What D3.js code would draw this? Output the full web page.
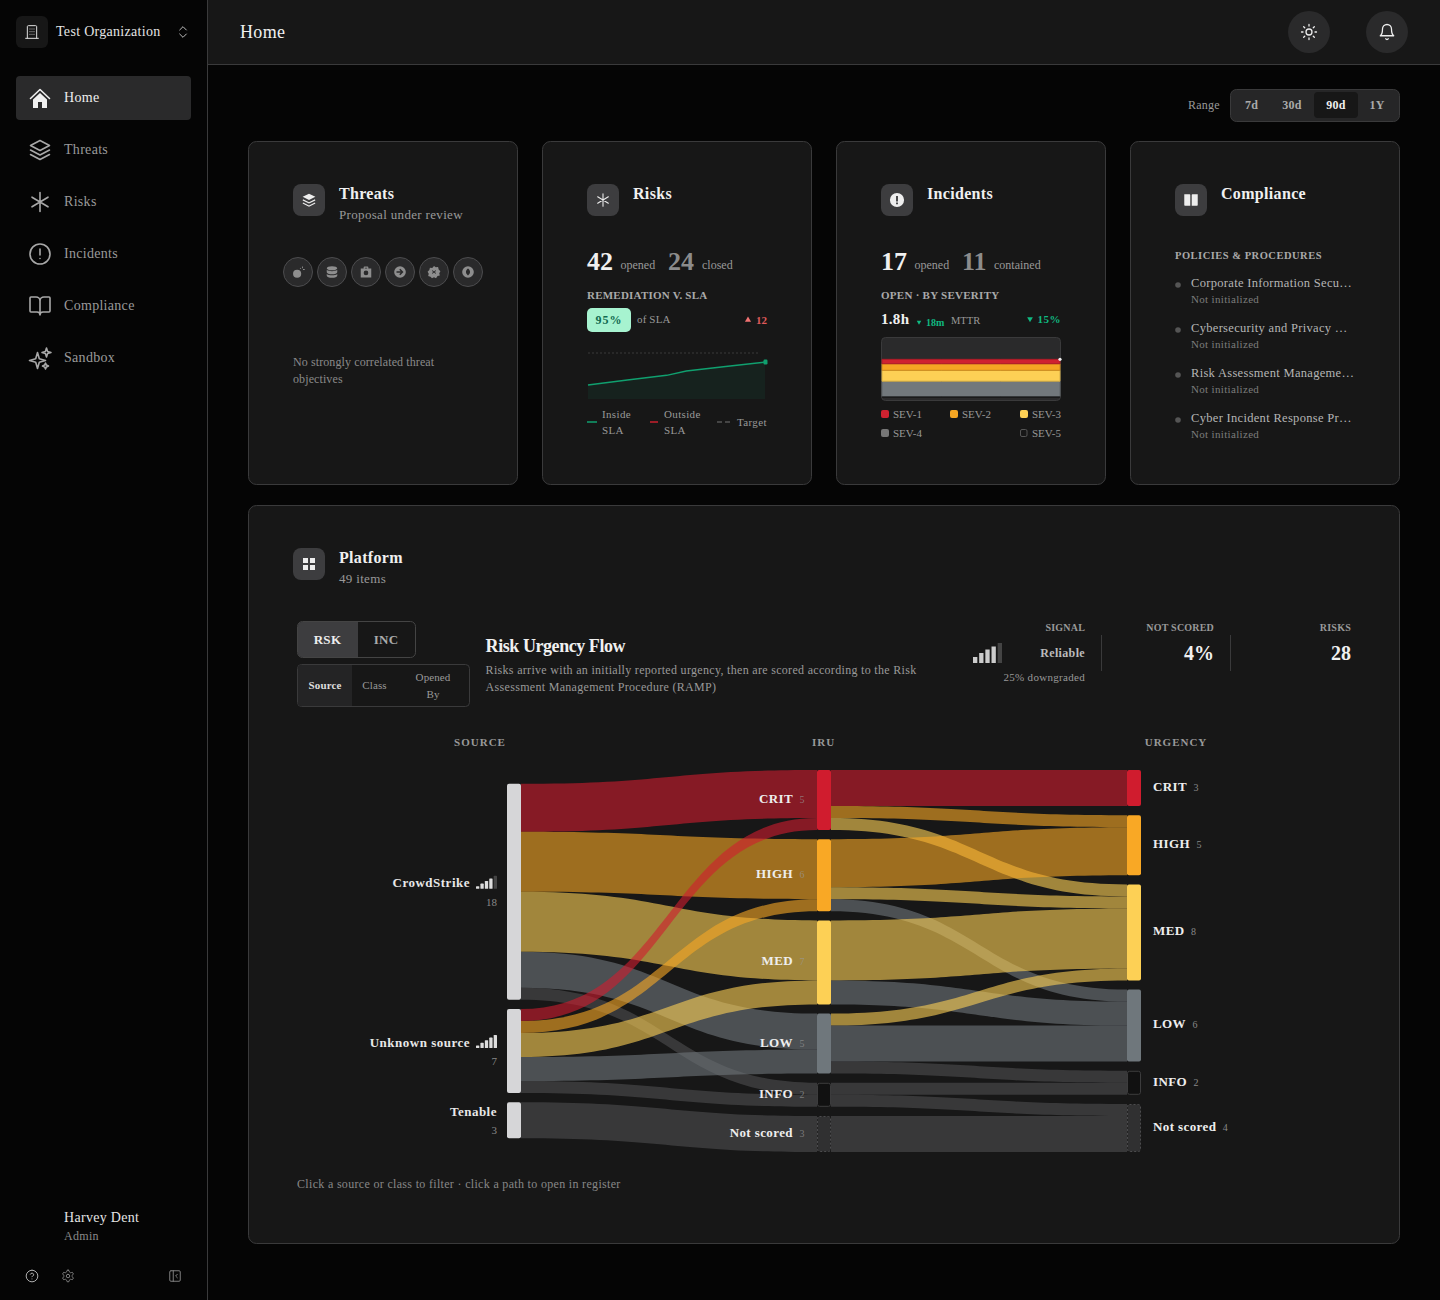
<!DOCTYPE html>
<html>
<head>
<meta charset="utf-8">
<title>Home</title>
<script src="https://cdn.jsdelivr.net/npm/d3@7/dist/d3.min.js"></script>
<style>
  html, body { margin: 0; padding: 0; background: #050505; }
  svg { display: block; font-family: "Liberation Serif", serif; }
</style>
</head>
<body>
<script>
// sankey data
const sourceNames = ["CrowdStrike", "Unknown source", "Tenable"];
const sourceSignal = [4, 5, 0];
const iruNames = ["CRIT", "HIGH", "MED", "LOW", "INFO", "Not scored"];
const urgencyNames = ["CRIT", "HIGH", "MED", "LOW", "INFO", "Not scored"];
const columnNames = ["SOURCE", "IRU", "URGENCY"];
const sourceToIru = [
  ["CrowdStrike", "CRIT", 4], ["CrowdStrike", "HIGH", 5], ["CrowdStrike", "MED", 5],
  ["CrowdStrike", "LOW", 3], ["CrowdStrike", "INFO", 1],
  ["Unknown source", "CRIT", 1], ["Unknown source", "HIGH", 1], ["Unknown source", "MED", 2],
  ["Unknown source", "LOW", 2], ["Unknown source", "INFO", 1],
  ["Tenable", "Not scored", 3],
];
const iruToUrgency = [
  ["CRIT", "CRIT", 3], ["CRIT", "HIGH", 1], ["CRIT", "MED", 1],
  ["HIGH", "HIGH", 4], ["HIGH", "MED", 1], ["HIGH", "LOW", 1],
  ["MED", "MED", 5], ["MED", "LOW", 2],
  ["LOW", "MED", 1], ["LOW", "LOW", 3], ["LOW", "INFO", 1],
  ["INFO", "INFO", 1], ["INFO", "Not scored", 1],
  ["Not scored", "Not scored", 3],
];
const bandNames = ["CRIT", "HIGH", "MED", "LOW", "INFO", "Not scored"];
const bandColors = ["#d01c2e", "#f9a825", "#fdd055", "#6f777c", "#4e4e50", "#4e4e50"];

// sla sparkline
const slaDays = [0, 20, 40, 50, 70, 90];
const slaInside = [82.2, 85, 87.6, 90, 92.5, 95];
const slaTarget = 100;

// severity stack
const severityNames = ["SEV-1", "SEV-2", "SEV-3", "SEV-4", "SEV-5"];
const severityColors = ["#cf2230", "#f5a623", "#fdd055", "#72787c", "#2a2a2b"];
const severityWeeks = [0, 30, 60, 90];
const severityOpen = [
  { week: 0, "SEV-1": 2, "SEV-2": 3, "SEV-3": 5, "SEV-4": 7, "SEV-5": 0 },
  { week: 30, "SEV-1": 2, "SEV-2": 3, "SEV-3": 5, "SEV-4": 7, "SEV-5": 0 },
  { week: 60, "SEV-1": 2, "SEV-2": 3, "SEV-3": 5, "SEV-4": 7, "SEV-5": 0 },
  { week: 90, "SEV-1": 2, "SEV-2": 3, "SEV-3": 5, "SEV-4": 7, "SEV-5": 0 },
];

// page text
const navItems = ["Home", "Threats", "Risks", "Incidents", "Compliance", "Sandbox"];
const rangeItems = ["7d", "30d", "90d", "1Y"];
const policyNames = [
  "Corporate Information Secu…",
  "Cybersecurity and Privacy …",
  "Risk Assessment Manageme…",
  "Cyber Incident Response Pr…",
];
const signalBars = [6, 10, 13.5, 16.5, 20];

const cardFill = "#171717";

// icons, 24 unit box
const icons = {
  building: "M5 21V4a1.5 1.5 0 0 1 1.500-1.500h11A1.500 1.500 0 0 1 19 4v17M2.500 21.500h19M9 7.500h.01M12 7.500h.01M15 7.500h.01M9 11.500h.01M12 11.500h.01M15 11.500h.01M9 15.500h.01M12 15.500h.01M15 15.500h.01",
  chevrons: "m7 15 5 5 5-5M7 9l5-5 5 5",
  layers: "M12 2.5 2.5 7.5 12 12.5l9.5-5ZM2.5 12l9.5 5 9.5-5M2.5 16.5l9.5 5 9.5-5",
  asterisk: "M12 2.5v19M4 7.2l16 9.6M20 7.2 4 16.8",
  alert: "M12 2a10 10 0 1 0 0 20 10 10 0 1 0 0-20M12 7v6M12 16.5h.01",
  book: "M12 7v14M3 18a1 1 0 0 1-1-1V4a1 1 0 0 1 1-1h5a4 4 0 0 1 4 4 4 4 0 0 1 4-4h5a1 1 0 0 1 1 1v13a1 1 0 0 1-1 1h-6a3 3 0 0 0-3 3 3 3 0 0 0-3-3z",
  sparkles: "M9.5 6.5 11.3 12.7 17.5 14.5 11.3 16.3 9.5 22.5 7.7 16.3 1.5 14.5 7.7 12.7ZM18.5 2 19.6 5.4 23 6.5 19.6 7.6 18.5 11 17.4 7.6 14 6.5 17.4 5.4ZM17.5 17 18.4 19.1 20.5 20 18.4 20.9 17.5 23 16.6 20.9 14.5 20 16.6 19.1Z",
  sun: "M12 8a4 4 0 1 0 0 8 4 4 0 1 0 0-8M12 2v2M12 20v2M4.9 4.9l1.4 1.4M17.7 17.7l1.4 1.4M2 12h2M20 12h2M6.3 17.7l-1.4 1.4M19.1 4.9l-1.4 1.4",
  bell: "M6 8a6 6 0 0 1 12 0c0 7 3 9 3 9H3s3-2 3-9M10.3 21a1.94 1.94 0 0 0 3.4 0",
  help: "M12 2a10 10 0 1 0 0 20 10 10 0 1 0 0-20M9.1 9a3 3 0 0 1 5.8 1c0 2-3 3-3 3M12 17h.01",
  gear: "M12.22 2h-.44a2 2 0 0 0-2 2v.18a2 2 0 0 1-1 1.73l-.43.25a2 2 0 0 1-2 0l-.15-.08a2 2 0 0 0-2.73.73l-.22.38a2 2 0 0 0 .73 2.73l.15.1a2 2 0 0 1 1 1.72v.51a2 2 0 0 1-1 1.74l-.15.09a2 2 0 0 0-.73 2.73l.22.38a2 2 0 0 0 2.73.73l.15-.08a2 2 0 0 1 2 0l.43.25a2 2 0 0 1 1 1.73V20a2 2 0 0 0 2 2h.44a2 2 0 0 0 2-2v-.18a2 2 0 0 1 1-1.73l.43-.25a2 2 0 0 1 2 0l.15.08a2 2 0 0 0 2.73-.73l.22-.39a2 2 0 0 0-.73-2.73l-.15-.08a2 2 0 0 1-1-1.74v-.5a2 2 0 0 1 1-1.74l.15-.09a2 2 0 0 0 .73-2.73l-.22-.38a2 2 0 0 0-2.73-.73l-.15.08a2 2 0 0 1-2 0l-.43-.25a2 2 0 0 1-1-1.73V4a2 2 0 0 0-2-2zM12 9a3 3 0 1 0 0 6 3 3 0 1 0 0-6",
  panel: "M5 3h14a2 2 0 0 1 2 2v14a2 2 0 0 1-2 2H5a2 2 0 0 1-2-2V5a2 2 0 0 1 2-2M9 3v18M16 9l-3 3 3 3",
  homeRoof: "M2.5 12.5 12 3.5l9.5 9",
  homeBody: "M5 13.5 12 7l7 6.5V22h-5v-6h-4v6H5Z",
  stackFill: "M12 3 3 7.5l9 4.5 9-4.5ZM3.6 11 12 15.2 20.4 11l.6 1.6-9 4.5-9-4.5ZM3.6 15.5 12 19.7l8.4-4.2.6 1.6-9 4.5-9-4.5Z",
  alertFill: "M12 2a10 10 0 1 0 0 20 10 10 0 1 0 0-20ZM10.7 6.5h2.6v7.5h-2.6ZM10.7 15.5h2.6v2.5h-2.6Z",
  bookFill: "M2.5 4H10a1 1 0 0 1 1 1v15H3.5a1 1 0 0 1-1-1ZM21.5 4H14a1 1 0 0 0-1 1v15h7.5a1 1 0 0 0 1-1Z",
  gridFill: "M3 3h7.5v7.5H3ZM13.5 3H21v7.5h-7.5ZM3 13.5h7.5V21H3ZM13.5 13.5H21V21h-7.5Z",
  bomb: "M10.5 8a7 7 0 1 0 0 14 7 7 0 1 0 0-14ZM15 6l1.5-1.5 1 1L16 7ZM19 2.5h1.6v3H19ZM20.5 7h3v1.6h-3Z",
  db: "M12 2c5 0 9 1.3 9 3.5S17 9 12 9 3 7.7 3 5.5 7 2 12 2ZM3 8.3C5 10 8.500 10.700 12 10.700S19 10 21 8.300v4.200C21 14.700 17 16 12 16S3 14.700 3 12.500ZM3 15.300C5 17 8.500 17.700 12 17.700S19 17 21 15.300v3.200C21 20.700 17 22 12 22S3 20.700 3 18.500Z",
  bag: "M8 6V4a1.500 1.500 0 0 1 1.500-1.500h5A1.500 1.500 0 0 1 16 4v2h5v15.500H3V6ZM10 6h4V4.500h-4ZM12 9.500a4 4 0 1 0 0 8 4 4 0 1 0 0-8Z",
  arrow: "M12 2a10 10 0 1 0 0 20 10 10 0 1 0 0-20ZM12.500 6.500 18 12l-5.500 5.500-1.800-1.800 2.500-2.500H6v-2.400h7.200l-2.500-2.500Z",
  hex: "M12 1.500l3 2.500 4-.5 1 4 3 3-2 3.500 1 4-4 1-2.500 3.500-3.500-1.500-3.500 1.500L6 20 2 19l1-4-2-3.500 3-3 1-4 4 .5ZM9.500 9 8.500 10 10.500 12l-2 2 1 1 2.500-2 2.500 2 1-1-2-2 2-2-1-1-2.500 2Z",
  coin: "M12 2a10 10 0 1 0 0 20 10 10 0 1 0 0-20ZM12 6c2.500 2 3.500 4 3.500 6s-1 4-3.500 6c-2.500-2-3.500-4-3.500-6s1-4 3.500-6Z",
};
const threatGlyphs = ["bomb", "db", "bag", "arrow", "hex", "coin"];

const svg = d3.select("body").append("svg").attr("width", 1440).attr("height", 1300);

function label(parent, x, y, str, o = {}) {
  return parent
    .append("text")
    .attr("x", x)
    .attr("y", y)
    .attr("fill", o.fill || "#999")
    .attr("font-size", o.size || 12)
    .attr("font-weight", o.bold ? 700 : 400)
    .attr("text-anchor", o.anchor || "start")
    .attr("letter-spacing", o.ls || 0)
    .text(str);
}

function icon(parent, name, x, y, size, o = {}) {
  // x,y is the top left corner of the icon box
  return parent
    .append("path")
    .attr("d", icons[name])
    .attr("transform", `translate(${x},${y}) scale(${size / 24})`)
    .attr("fill", o.fill || "none")
    .attr("fill-rule", "evenodd")
    .attr("stroke", o.stroke || "none")
    .attr("stroke-width", o.sw || 0)
    .attr("stroke-linecap", "round")
    .attr("stroke-linejoin", "round");
}

function box(parent, x, y, w, h, r, fill, stroke) {
  return parent
    .append("rect")
    .attr("x", x + (stroke ? 0.5 : 0))
    .attr("y", y + (stroke ? 0.5 : 0))
    .attr("width", w - (stroke ? 1 : 0))
    .attr("height", h - (stroke ? 1 : 0))
    .attr("rx", r)
    .attr("fill", fill)
    .attr("stroke", stroke || "none");
}

function hline(parent, x1, y1, x2, y2, stroke, sw) {
  return parent
    .append("line")
    .attr("x1", x1)
    .attr("y1", y1)
    .attr("x2", x2)
    .attr("y2", y2)
    .attr("stroke", stroke)
    .attr("stroke-width", sw || 1);
}

function drawSidebar() {
  const g = svg.append("g").attr("id", "sidebar");
  box(g, 0, 0, 207, 1300, 0, "#050505");
  hline(g, 207.5, 0, 207.5, 1300, "#3a3a3b");

  box(g, 16, 16, 32, 32, 6, cardFill);
  icon(g, "building", 24, 24, 16, { stroke: "#e0e0e0", sw: 1.5 });
  label(g, 56, 36, "Test Organization", { fill: "#e4e4e4", size: 14, ls: 0.3 });
  icon(g, "chevrons", 175, 24, 16, { stroke: "#bbb", sw: 1.5 });

  const navIcons = ["home", "layers", "asterisk", "alert", "book", "sparkles"];
  box(g, 16, 76, 175, 44, 4, "#2a2a2b");
  navItems.forEach((name, i) => {
    const cy = 98 + i * 52;
    label(g, 64, cy + 4, name, { fill: i === 0 ? "#eee" : "#9a9a9a", size: 14, ls: 0.3 });
    if (navIcons[i] === "home") {
      icon(g, "homeRoof", 28, cy - 12, 24, { stroke: "#f0f0f0", sw: 1.6 });
      icon(g, "homeBody", 28, cy - 12, 24, { fill: "#f0f0f0" });
    } else {
      icon(g, navIcons[i], 28, cy - 12, 24, { stroke: "#a8a8a8", sw: 1.6 });
    }
  });

  label(g, 64, 1222, "Harvey Dent", { fill: "#e4e4e4", size: 14, ls: 0.3 });
  label(g, 64, 1240, "Admin", { fill: "#8a8a8a", size: 12, ls: 0.3 });
  icon(g, "help", 25, 1269, 14, { stroke: "#bbb", sw: 1.6 });
  icon(g, "gear", 61, 1269, 14, { stroke: "#888", sw: 1.6 });
  icon(g, "panel", 168, 1269, 14, { stroke: "#888", sw: 1.6 });
}

function drawHeader() {
  const g = svg.append("g").attr("id", "header");
  box(g, 208, 0, 1232, 64, 0, cardFill);
  hline(g, 208, 64.5, 1440, 64.5, "#3a3a3b");
  label(g, 240, 38, "Home", { fill: "#f0f0f0", size: 18, ls: 0.36 });
  g.append("circle").attr("cx", 1309).attr("cy", 32).attr("r", 21).attr("fill", "#2a2a2b");
  g.append("circle").attr("cx", 1387).attr("cy", 32).attr("r", 21).attr("fill", "#2a2a2b");
  icon(g, "sun", 1300, 23, 18, { stroke: "#eee", sw: 1.7 });
  icon(g, "bell", 1378, 23, 18, { stroke: "#eee", sw: 1.7 });

  label(g, 1188, 109, "Range", { fill: "#999", size: 12, ls: 0.2 });
  box(g, 1230, 89, 170, 33, 6, "#262627", "#3a3a3b");
  box(g, 1314, 92, 44, 26, 4, cardFill);
  const rangeX = d3.scaleOrdinal().domain(rangeItems).range([1251.5, 1292, 1336, 1377]);
  rangeItems.forEach((r) => {
    label(g, rangeX(r), 109, r, { fill: r === "90d" ? "#eee" : "#aaa", size: 12, bold: true, anchor: "middle", ls: 0.24 });
  });
}

function card(x, y, w, h, id) {
  const g = svg.append("g").attr("id", id);
  box(g, x, y, w, h, 8, cardFill, "#3a3a3b");
  return g;
}

function cardHead(g, x, y, title, glyph, sub) {
  box(g, x, y, 32, 32, 8, "#3d3d3f");
  if (glyph === "asterisk") icon(g, glyph, x + 8, y + 8, 16, { stroke: "#eee", sw: 1.6 });
  else if (glyph === "gridFill") icon(g, glyph, x + 8, y + 8, 16, { fill: "#eee" });
  else icon(g, glyph, x + 7.5, y + 7.5, 17, { fill: "#eee" });
  label(g, x + 46, y + 15, title, { fill: "#f0f0f0", size: 16, bold: true, ls: 0.32 });
  if (sub) label(g, x + 46, y + 35, sub, { fill: "#999", size: 13, ls: 0.33 });
}

function drawThreats() {
  const g = card(248, 141, 270, 344, "threats");
  cardHead(g, 293, 184, "Threats", "stackFill", "Proposal under review");
  threatGlyphs.forEach((name, i) => {
    const cx = 298 + i * 34;
    g.append("circle").attr("cx", cx).attr("cy", 272).attr("r", 14.5)
      .attr("fill", "#2a2a2b").attr("stroke", "#4c4c4e");
    icon(g, name, cx - 7, 265, 14, { fill: "#8e8e8e" });
  });
  label(g, 293, 366, "No strongly correlated threat", { fill: "#8a8a8a", size: 12, ls: 0.1 });
  label(g, 293, 383, "objectives", { fill: "#8a8a8a", size: 12, ls: 0.1 });
}

function drawRisks() {
  const g = card(542, 141, 270, 344, "risks");
  cardHead(g, 587, 184, "Risks", "asterisk");
  label(g, 587, 269.5, "42", { fill: "#f0f0f0", size: 26, bold: true });
  label(g, 620.5, 269, "opened", { size: 12 });
  label(g, 668, 269.5, "24", { fill: "#8c8c8c", size: 26, bold: true });
  label(g, 702, 269, "closed", { size: 12 });
  label(g, 587, 299, "REMEDIATION V. SLA", { fill: "#aaa", size: 11, bold: true, ls: 0.22 });

  box(g, 587, 308, 44, 24, 5, "#a7f3d0");
  label(g, 609, 324, "95%", { fill: "#116a4f", size: 12, bold: true, anchor: "middle", ls: 1 });
  label(g, 637, 323, "of SLA", { size: 11, ls: 0.15 });
  g.append("path").attr("d", d3.symbol(d3.symbolTriangle, 16)).attr("transform", "translate(748,320)").attr("fill", "#f27272");
  label(g, 756, 324, "12", { fill: "#e05a5a", size: 11, bold: true });

  const x = d3.scaleLinear().domain([0, 90]).range([588, 765]);
  const y = d3.scaleLinear().domain([74.5, slaTarget]).range([399, 353]);
  const area = d3.area().x((d, i) => x(slaDays[i])).y0(y(74.5)).y1((d) => y(d));
  const line = d3.line().x((d, i) => x(slaDays[i])).y((d) => y(d));
  g.append("path").attr("d", area(slaInside)).attr("fill", "#10b981").attr("opacity", 0.07);
  g.append("path").attr("d", line(slaInside)).attr("fill", "none").attr("stroke", "#10a06f").attr("stroke-width", 1.5);
  hline(g, x(0), y(slaTarget), x(87), y(slaTarget), "#3a3a3b", 1).attr("stroke-dasharray", "2 2");
  const last = slaInside.length - 1;
  box(g, x(slaDays[last]) - 1.5, y(slaInside[last]) - 2.5, 4, 5, 1.2, "#10a06f");

  hline(g, 587, 422, 597, 422, "#10a06f", 1.5);
  label(g, 602, 418, "Inside", { size: 11, ls: 0.35 });
  label(g, 602, 434, "SLA", { size: 11, ls: 0.35 });
  hline(g, 650, 422, 658, 422, "#c9202e", 1.5);
  label(g, 664, 418, "Outside", { size: 11, ls: 0.35 });
  label(g, 664, 434, "SLA", { size: 11, ls: 0.35 });
  hline(g, 717, 422, 732, 422, "#555", 1.5).attr("stroke-dasharray", "5 3");
  label(g, 737, 426, "Target", { size: 11, ls: 0.35 });
}

function drawIncidents() {
  const g = card(836, 141, 270, 344, "incidents");
  cardHead(g, 881, 184, "Incidents", "alertFill");
  label(g, 881, 269.5, "17", { fill: "#f0f0f0", size: 26, bold: true });
  label(g, 914.5, 269, "opened", { size: 12 });
  label(g, 962, 269.5, "11", { fill: "#8c8c8c", size: 26, bold: true });
  label(g, 994, 269, "contained", { size: 12 });
  label(g, 881, 299, "OPEN · BY SEVERITY", { fill: "#aaa", size: 11, bold: true, ls: 0.27 });

  label(g, 881, 324, "1.8h", { fill: "#f0f0f0", size: 15, bold: true, ls: 0.3 });
  g.append("path").attr("d", d3.symbol(d3.symbolTriangle, 9)).attr("transform", "translate(919,322) rotate(180)").attr("fill", "#10b981");
  label(g, 926, 326, "18m", { fill: "#10b981", size: 10, bold: true });
  label(g, 951, 324, "MTTR", { size: 10.5 });
  g.append("path").attr("d", d3.symbol(d3.symbolTriangle, 14)).attr("transform", "translate(1030,319) rotate(180)").attr("fill", "#10b981");
  label(g, 1061, 323, "15%", { fill: "#10b981", size: 11, bold: true, anchor: "end", ls: 0.5 });

  box(g, 881, 337, 180, 64, 4, "#2a2a2b", "#3a3a3b");
  const x = d3.scaleLinear().domain(d3.extent(severityWeeks)).range([882, 1060]);
  const y = d3.scaleLinear().domain([0, 27]).range([396.5, 337.5]);
  const stack = d3.stack().keys(severityNames.slice().reverse());
  const area = d3.area().x((d) => x(d.data.week)).y0((d) => y(d[0])).y1((d) => y(d[1]));
  const color = d3.scaleOrdinal().domain(severityNames).range(severityColors);
  stack(severityOpen).forEach((s) => {
    if (s.key === "SEV-5") return;
    g.append("path").attr("d", area(s)).attr("fill", color(s.key))
      .attr("stroke", d3.color(color(s.key)).darker(0.5)).attr("stroke-width", 1);
  });
  hline(g, 882, y(0) + 0.5, 1060, y(0) + 0.5, "#0b0b0b", 1.2);
  const top = d3.sum(severityNames, (k) => severityOpen[3][k]);
  g.append("circle").attr("cx", x(90)).attr("cy", y(top)).attr("r", 1.6).attr("fill", "#eee");

  const legendX = [881, 950, 1020, 881, 1020];
  const legendY = [410, 410, 410, 429, 429];
  severityNames.forEach((s, i) => {
    if (s === "SEV-5") box(g, legendX[i], legendY[i], 7.5, 8, 1.5, "none", "#555");
    else box(g, legendX[i], legendY[i], 8, 8, 2, i === 3 ? "#777" : color(s));
    label(g, legendX[i] + 12, legendY[i] + 8, s, { size: 11 });
  });
}

function drawCompliance() {
  const g = card(1130, 141, 270, 344, "compliance");
  cardHead(g, 1175, 184, "Compliance", "bookFill");
  label(g, 1175, 259, "POLICIES & PROCEDURES", { fill: "#aaa", size: 10.5, bold: true, ls: 0.5 });
  policyNames.forEach((name, i) => {
    const y = 287 + i * 45;
    g.append("circle").attr("cx", 1178).attr("cy", y - 2).attr("r", 2.8).attr("fill", "#555");
    label(g, 1191, y, name, { fill: "#b5b5b5", size: 12.5, ls: 0.31 });
    label(g, 1191, y + 16, "Not initialized", { fill: "#7c7c7c", size: 11, ls: 0.33 });
  });
}

function drawPlatformHead(g) {
  cardHead(g, 293, 548, "Platform", "gridFill", "49 items");

  box(g, 297, 621, 119, 37, 5, cardFill, "#444");
  g.append("path").attr("d", "M298,626a4,4 0 0 1 4,-4h56v35h-56a4,4 0 0 1 -4,-4Z").attr("fill", "#3d3d3f");
  label(g, 327.5, 644, "RSK", { fill: "#eee", size: 13, bold: true, anchor: "middle", ls: 0.3 });
  label(g, 386, 644, "INC", { fill: "#aaa", size: 13, bold: true, anchor: "middle", ls: 0.3 });

  box(g, 297, 664, 173, 43, 4, cardFill, "#3a3a3b");
  g.append("path").attr("d", "M298,668a3,3 0 0 1 3,-3h51v41h-51a3,3 0 0 1 -3,-3Z").attr("fill", "#242425");
  label(g, 325, 689, "Source", { fill: "#ddd", size: 11, bold: true, anchor: "middle", ls: 0.1 });
  label(g, 374.5, 689, "Class", { size: 11, anchor: "middle", ls: 0.1 });
  label(g, 433, 681, "Opened", { size: 11, anchor: "middle", ls: 0.1 });
  label(g, 433, 698, "By", { size: 11, anchor: "middle", ls: 0.1 });

  label(g, 485.6, 652, "Risk Urgency Flow", { fill: "#f0f0f0", size: 18, bold: true, ls: -0.44 });
  label(g, 485.6, 674, "Risks arrive with an initially reported urgency, then are scored according to the Risk", { size: 12, ls: 0.31 });
  label(g, 485.6, 691, "Assessment Management Procedure (RAMP)", { size: 12, ls: 0.31 });

  const barX = d3.scaleBand().domain(d3.range(signalBars.length)).range([973, 1002]).paddingInner(0.3);
  const barY = d3.scaleLinear().domain([0, 20]).range([663, 643]);
  signalBars.forEach((h, i) => {
    g.append("rect").attr("x", barX(i)).attr("y", barY(h)).attr("width", barX.bandwidth())
      .attr("height", barY(0) - barY(h)).attr("fill", i === 4 ? "#444" : "#ccc");
  });
  label(g, 1085, 631, "SIGNAL", { size: 10, bold: true, anchor: "end", ls: 0.2 });
  label(g, 1085, 657, "Reliable", { fill: "#bbb", size: 12, bold: true, anchor: "end", ls: 0.35 });
  label(g, 1085, 681, "25% downgraded", { size: 11, anchor: "end", ls: 0.3 });
  hline(g, 1101.5, 635, 1101.5, 671, "#3a3a3b");
  label(g, 1214, 631, "NOT SCORED", { size: 10, bold: true, anchor: "end", ls: 0.2 });
  label(g, 1214, 660, "4%", { fill: "#f0f0f0", size: 20, bold: true, anchor: "end" });
  hline(g, 1230.5, 635, 1230.5, 671, "#3a3a3b");
  label(g, 1351, 631, "RISKS", { size: 10, bold: true, anchor: "end", ls: 0.25 });
  label(g, 1351, 660, "28", { fill: "#f0f0f0", size: 20, bold: true, anchor: "end" });
}

function drawSankey(g) {
  // no d3-sankey in the bundle, so lay the nodes out here with plain scales
  const nodeW = 14;
  const colX = d3.scalePoint().domain(columnNames).range([507, 1127]);
  const top = 770;
  const bottom = 1152;
  const total = d3.sum(sourceToIru, (d) => d[2]);
  const gap = (bottom - top - total * 12) / (iruNames.length - 1);
  const h = d3.scaleLinear().domain([0, total]).range([0, total * 12]);
  const bandColor = d3.scaleOrdinal().domain(bandNames).range(bandColors);

  function makeCol(col, names, inFlows, outFlows) {
    const vals = names.map((n) =>
      d3.sum(inFlows || outFlows, (f) => (f[inFlows ? 1 : 0] === n ? f[2] : 0))
    );
    const span = d3.sum(vals, h) + gap * (names.length - 1);
    let y = (top + bottom - span) / 2;
    return names.map((name, i) => {
      const n = { name, col, value: vals[i], x: colX(col), y0: y, y1: y + h(vals[i]), inY: y, outY: y };
      y = n.y1 + gap;
      return n;
    });
  }
  const sNodes = makeCol("SOURCE", sourceNames, null, sourceToIru);
  const iNodes = makeCol("IRU", iruNames, sourceToIru);
  const uNodes = makeCol("URGENCY", urgencyNames, iruToUrgency);

  function makeLinks(flows, from, to) {
    return flows.map(([a, b, v]) => {
      const s = from.find((n) => n.name === a);
      const t = to.find((n) => n.name === b);
      const l = { s, t, v, band: b, sy: s.outY, ty: t.inY };
      s.outY += h(v);
      t.inY += h(v);
      return l;
    });
  }
  const links = makeLinks(sourceToIru, sNodes, iNodes).concat(makeLinks(iruToUrgency, iNodes, uNodes));

  function ribbon(l) {
    const x0 = l.s.x + nodeW;
    const x1 = l.t.x;
    const m = (x0 + x1) / 2;
    const t = h(l.v);
    return `M${x0},${l.sy}C${m},${l.sy} ${m},${l.ty} ${x1},${l.ty}` +
      `L${x1},${l.ty + t}C${m},${l.ty + t} ${m},${l.sy + t} ${x0},${l.sy + t}Z`;
  }
  g.append("g").attr("class", "links").selectAll("path").data(links).enter().append("path")
    .attr("d", ribbon)
    .attr("fill", (l) => bandColor(l.band))
    .attr("fill-opacity", 0.6);

  label(g, 480, 746, "SOURCE", { size: 11, bold: true, anchor: "middle", ls: 1 });
  label(g, 823.5, 746, "IRU", { size: 11, bold: true, anchor: "middle", ls: 1 });
  label(g, 1176, 746, "URGENCY", { size: 11, bold: true, anchor: "middle", ls: 1 });

  const nodes = g.append("g").attr("class", "nodes");
  sNodes.forEach((n) => {
    box(nodes, n.x, n.y0, nodeW, n.y1 - n.y0, 2, "#d6d6d8");
  });
  iNodes.concat(uNodes).forEach((n) => {
    if (n.name === "INFO") box(nodes, n.x, n.y0, nodeW, n.y1 - n.y0, 2, "#111", "#3c3c3d");
    else if (n.name === "Not scored")
      box(nodes, n.x, n.y0, nodeW, n.y1 - n.y0, 2, "#303031", "#4c4c4e").attr("stroke-dasharray", "2 2");
    else box(nodes, n.x, n.y0, nodeW, n.y1 - n.y0, 2, bandColor(n.name));
  });

  // labels
  sNodes.forEach((n, i) => {
    const cy = (n.y0 + n.y1) / 2;
    const hasBars = sourceSignal[i] > 0;
    label(g, hasBars ? 470 : 497, cy - 4.5, n.name, { fill: "#e8e8e8", size: 13, bold: true, ls: 0.5, anchor: "end" });
    label(g, 497, cy + 14, n.value, { fill: "#888", size: 11, anchor: "end" });
    if (hasBars) {
      const bx = d3.scaleBand().domain(d3.range(5)).range([476, 497]).paddingInner(0.25);
      const by = d3.scaleLinear().domain([0, 5]).range([cy - 3, cy - 16]);
      d3.range(5).forEach((b) => {
        g.append("rect").attr("x", bx(b)).attr("y", by(b + 1)).attr("width", bx.bandwidth())
          .attr("height", by(0) - by(b + 1)).attr("rx", 0.6)
          .attr("fill", b < sourceSignal[i] ? "#ddd" : "#444");
      });
    }
  });
  iNodes.forEach((n) => {
    const cy = (n.y0 + n.y1) / 2 + 3;
    label(g, 793, cy, n.name, { fill: "#eee", size: 13, bold: true, ls: 0.4, anchor: "end" });
    label(g, 802, cy, n.value, { fill: "#999", size: 10, anchor: "middle" }).attr("fill-opacity", 0.7);
  });
  uNodes.forEach((n) => {
    const cy = (n.y0 + n.y1) / 2 + 2.8;
    const t = label(g, 1153, cy, n.name, { fill: "#eee", size: 13, bold: true, ls: 0.4 });
    t.append("tspan").attr("dx", 6.5).attr("font-size", 10).attr("font-weight", 400).attr("fill", "#888").text(n.value);
  });

  label(g, 297, 1188, "Click a source or class to filter · click a path to open in register", { fill: "#888", size: 12, ls: 0.32 });
}

drawSidebar();
drawHeader();
drawThreats();
drawRisks();
drawIncidents();
drawCompliance();
const platform = card(248, 505, 1152, 739, "platform");
drawPlatformHead(platform);
drawSankey(platform);
</script>
</body>
</html>
